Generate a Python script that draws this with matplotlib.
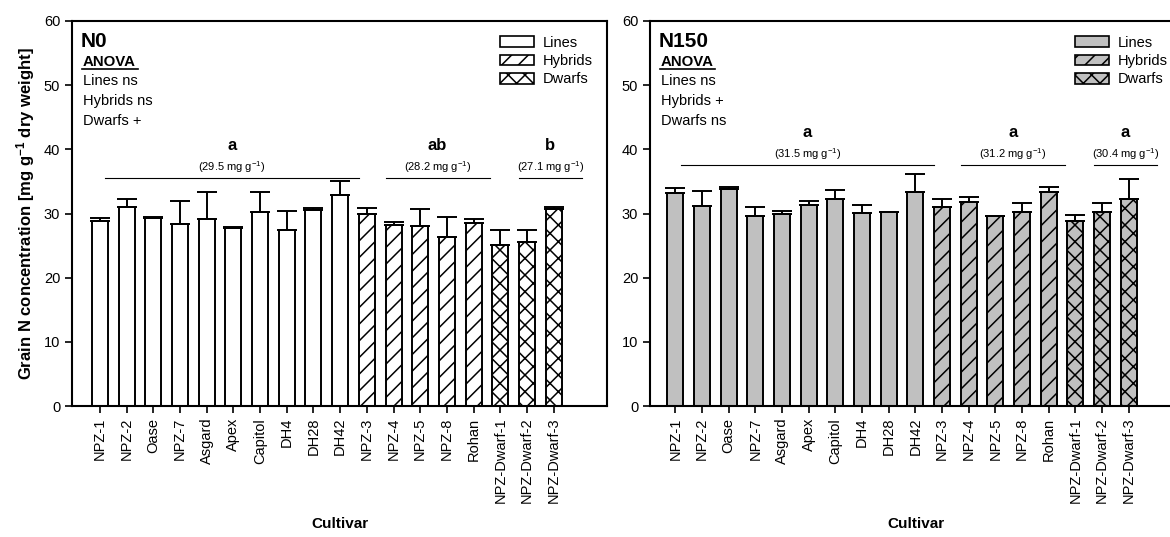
import numpy as np
import matplotlib
matplotlib.use("Agg")
import matplotlib.pyplot as plt
from matplotlib.patches import Patch

plt.rcParams['font.family'] = ['Liberation Sans', 'DejaVu Sans']
plt.rcParams['mathtext.default'] = 'regular'
plt.rcParams['hatch.linewidth'] = 1.1

cultivars = ['NPZ-1', 'NPZ-2', 'Oase', 'NPZ-7', 'Asgard', 'Apex', 'Capitol', 'DH4',
             'DH28', 'DH42', 'NPZ-3', 'NPZ-4', 'NPZ-5', 'NPZ-8', 'Rohan',
             'NPZ-Dwarf-1', 'NPZ-Dwarf-2', 'NPZ-Dwarf-3']
groups = ['Lines'] * 10 + ['Hybrids'] * 5 + ['Dwarfs'] * 3

# grain N, mg g-1 dry weight (mean and SE)
n0_mean = [28.9, 31.0, 29.35, 28.4, 29.1, 27.8, 30.3, 27.4, 30.5, 32.9,
           30.0, 28.2, 28.05, 26.4, 28.5, 25.1, 25.6, 30.7]
n0_se = [0.4, 1.2, 0.1, 3.6, 4.2, 0.15, 3.05, 3.0, 0.3, 2.2,
         0.85, 0.5, 2.7, 3.0, 0.6, 2.4, 1.8, 0.35]
n150_mean = [33.15, 31.1, 33.8, 29.6, 30.0, 31.4, 32.3, 30.1, 30.2, 33.3,
             31.05, 31.8, 29.55, 30.3, 33.3, 28.8, 30.2, 32.25]
n150_se = [0.8, 2.4, 0.35, 1.4, 0.45, 0.5, 1.4, 1.25, 0.1, 2.85,
           1.25, 0.7, 0.1, 1.35, 0.9, 0.9, 1.45, 3.2]

anova_n0 = ['Lines ns', 'Hybrids ns', 'Dwarfs +']
anova_n150 = ['Lines ns', 'Hybrids +', 'Dwarfs ns']
letters_n0 = ['a', 'ab', 'b']
letters_n150 = ['a', 'a', 'a']
group_means_n0 = [29.5, 28.2, 27.1]
group_means_n150 = [31.5, 31.2, 30.4]

hatches = {'Lines': '', 'Hybrids': '//', 'Dwarfs': 'xx'}
spans = [(0.2, 9.7), (10.7, 14.6), (15.7, 18.05)]

W, H = 1170, 537
fig = plt.figure(figsize=(W / 100, H / 100), dpi=100)
ax1 = fig.add_axes([72 / W, 1 - 406 / H, 535 / W, 385 / H])
ax2 = fig.add_axes([650 / W, 1 - 406 / H, 532 / W, 385 / H])


def panel(ax, means, se, color, title, anova, letters, gmeans, xlim, line_y):
    x = np.arange(len(cultivars))
    for i in x:
        ax.bar(i, means[i], width=0.6, color=color, edgecolor='black',
               linewidth=1.4, hatch=hatches[groups[i]], zorder=2)
    ax.errorbar(x, means, yerr=[np.zeros(len(se)), se], fmt='none',
                ecolor='black', elinewidth=1.4, capsize=7, capthick=1.4, zorder=3)
    ax.set_xlim(*xlim)
    ax.set_ylim(0, 60)
    ax.set_yticks(range(0, 61, 10))
    ax.set_xticks(x)
    ax.set_xticklabels(cultivars, rotation=90, fontsize=10.5)
    ax.tick_params(axis='both', direction='out', length=5, width=1.2, labelsize=10.5)
    for s in ax.spines.values():
        s.set_linewidth(1.5)
    ax.set_xlabel('Cultivar', fontsize=11, fontweight='bold', labelpad=10)

    ax.text(0.017, 0.946, title, transform=ax.transAxes, fontsize=15,
            fontweight='bold', va='center')
    ax.text(0.02, 0.894, 'ANOVA', transform=ax.transAxes, fontsize=10.8,
            fontweight='bold', va='center')
    ax.plot([0.018, 0.123], [0.876, 0.876], transform=ax.transAxes,
            color='black', linewidth=1.2)
    for k, line in enumerate(anova):
        ax.text(0.02, 0.844 - k * 0.052, line, transform=ax.transAxes,
                fontsize=10.5, va='center')

    for (x0, x1), let, gm in zip(spans, letters, gmeans):
        ax.plot([x0, x1], [line_y, line_y], color='black', linewidth=0.8)
        xc = (x0 + x1) / 2
        ax.text(xc, line_y + 5.0, let, ha='center', va='center',
                fontsize=12, fontweight='bold')
        ax.text(xc, line_y + 1.7, '(%.1f mg g$^{-1}$)' % gm, ha='center',
                va='center', fontsize=8)

    handles = [Patch(facecolor=color, edgecolor='black', linewidth=1.2,
                     hatch=hatches[g], label=g) for g in ['Lines', 'Hybrids', 'Dwarfs']]
    ax.legend(handles=handles, loc='upper right', frameon=False, fontsize=10.5,
              handlelength=2.3, handleheight=0.75, handletextpad=0.6,
              labelspacing=0.3, borderaxespad=0.6)


panel(ax1, n0_mean, n0_se, 'white', 'N0', anova_n0, letters_n0,
      group_means_n0, (-1.05, 19.0), 35.6)
panel(ax2, n150_mean, n150_se, '#c0c0c0', 'N150', anova_n150, letters_n150,
      group_means_n150, (-0.95, 19.0), 37.6)

ax1.set_ylabel('Grain N concentration [mg g$^{-1}$ dry weight]', fontsize=12,
               fontweight='bold', labelpad=5)

fig.savefig('out.png', dpi=100)
